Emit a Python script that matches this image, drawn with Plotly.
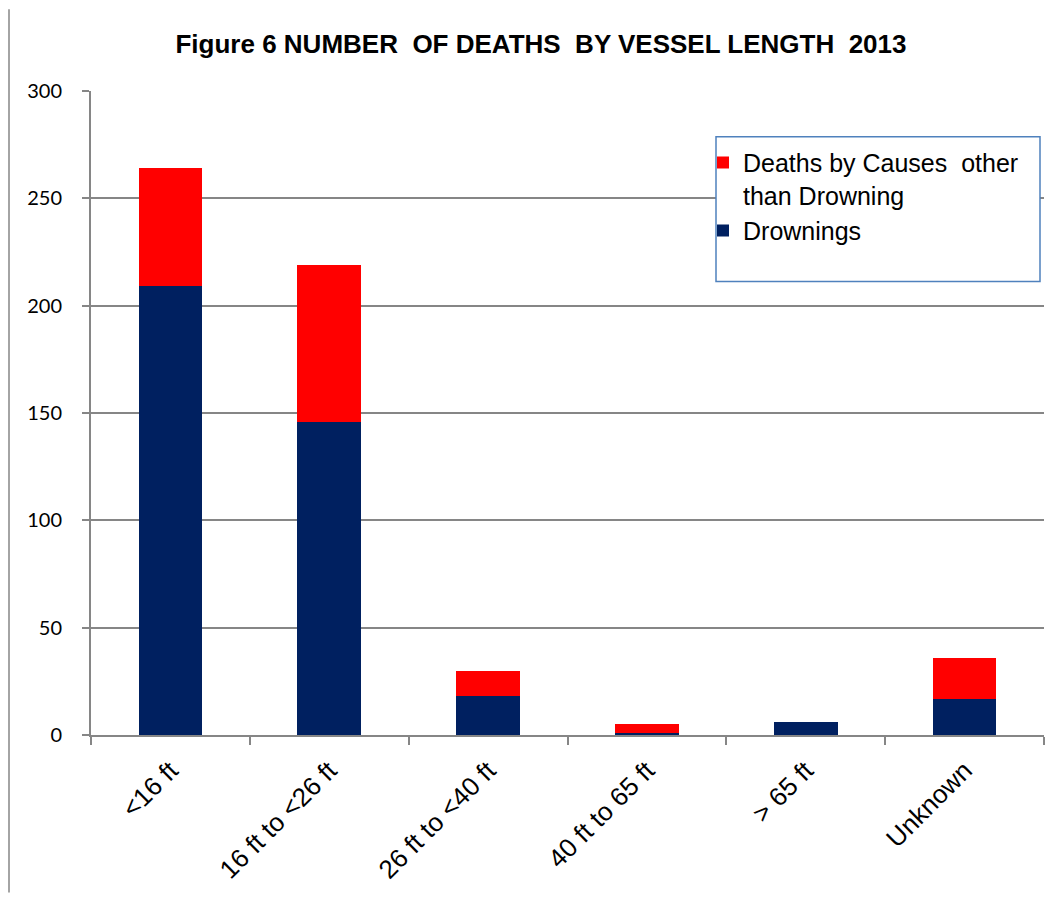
import plotly.graph_objects as go

# vessel length categories and death counts
categories = ["<16 ft", "16 ft to <26 ft", "26 ft to <40 ft", "40 ft to 65 ft", "> 65 ft", "Unknown"]
drownings = [209, 146, 18, 1, 6, 17]
other_causes = [55, 73, 12, 4, 0, 19]
y_ticks = [0, 50, 100, 150, 200, 250, 300]

# page has an 8px body margin, so the figure is a bit smaller than the window
OFF = 8
W, H = 1063 - 2 * OFF, 903 - 2 * OFF
L, T = 91 - OFF, 91 - OFF
R, B = W - (1044 - OFF), H - (737 - OFF)
pw, ph = W - L - R, H - T - B


def fx(x):
    # page pixel -> paper x
    return (x - OFF - L) / pw


def fy(y):
    # page pixel -> paper y
    return (H - B - (y - OFF)) / ph


fig = go.Figure()

fig.add_trace(go.Bar(
    x=categories, y=drownings, name="Drownings",
    marker=dict(color="#002060", line=dict(width=0)),
))
fig.add_trace(go.Bar(
    x=categories, y=other_causes, name="Deaths by Causes\u00a0 other<br>than Drowning",
    marker=dict(color="#FF0000", line=dict(width=0)),
))

# outer chart frame, left edge
fig.add_shape(type="line", xref="paper", yref="paper",
              x0=fx(OFF + 1), x1=fx(OFF + 1), y0=fy(H + OFF), y1=fy(OFF + 1),
              line=dict(color="#868686", width=1.5))
# legend frame
fig.add_shape(type="rect", xref="paper", yref="paper",
              x0=fx(716), x1=fx(1040), y0=fy(282), y1=fy(137),
              line=dict(color="#4F81BD", width=1.5), fillcolor="white", layer="above")

fig.update_layout(
    width=W, height=H,
    barmode="stack", bargap=0.6,
    title=dict(text="<b>Figure 6 NUMBER\u00a0 OF DEATHS\u00a0 BY VESSEL LENGTH\u00a0 2013</b>",
               x=(541 - OFF) / W, xanchor="center", y=1 - (44 - OFF) / H, yanchor="middle",
               font=dict(family="Liberation Sans, Arial", size=26, color="black")),
    legend=dict(x=fx(703), y=fy(140), xanchor="left", yanchor="top",
                traceorder="reversed", bgcolor="rgba(0,0,0,0)", borderwidth=0,
                font=dict(family="Liberation Sans, Arial", size=25, color="black"),
                itemwidth=30, valign="top"),
    xaxis=dict(
        tickangle=-45, ticks="outside", tickson="boundaries", ticklen=8,
        tickcolor="#868686", tickwidth=1.5, ticklabelstandoff=8,
        showline=True, linecolor="#868686", linewidth=2, showgrid=False,
        tickfont=dict(family="Liberation Sans, Arial", size=26, color="black"),
    ),
    yaxis=dict(
        range=[0, 300], tickvals=y_ticks, ticks="outside", ticklen=7,
        tickcolor="#868686", tickwidth=1.5, ticklabelstandoff=16,
        showline=True, linecolor="#868686", linewidth=2,
        showgrid=True, gridcolor="#868686", gridwidth=1.5, zeroline=False,
        tickfont=dict(family="Lato, Open Sans, sans-serif", size=20, color="black"),
    ),
    plot_bgcolor="white", paper_bgcolor="white",
    margin=dict(l=L, r=R, t=T, b=B),
)

fig.write_html("out.html")
